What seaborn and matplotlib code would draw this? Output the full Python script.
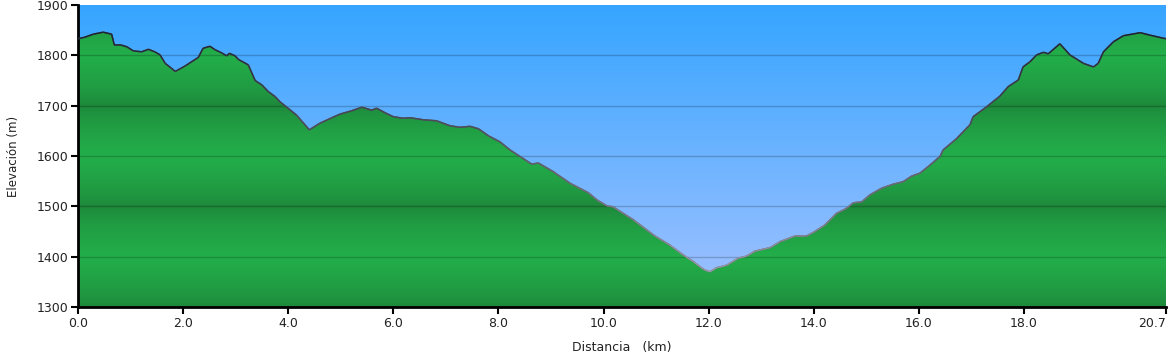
import numpy as np
import pandas as pd
import matplotlib
matplotlib.use("Agg")
import matplotlib.pyplot as plt
from matplotlib.colors import LinearSegmentedColormap, to_rgb
from matplotlib.collections import LineCollection
import seaborn as sns

# ---- data ----
distance_km = [0.00, 0.13, 0.29, 0.48, 0.64, 0.69, 0.80, 0.93, 1.05, 1.21,
               1.34, 1.46, 1.56, 1.66, 1.78, 1.85, 2.04, 2.29, 2.38, 2.51,
               2.61, 2.73, 2.83, 2.88, 2.99, 3.05, 3.24, 3.37, 3.50, 3.62,
               3.75, 3.84, 4.16, 4.40, 4.60, 4.83, 4.98, 5.21, 5.40, 5.59,
               5.68, 5.84, 6.00, 6.19, 6.32, 6.57, 6.82, 7.08, 7.27, 7.46,
               7.62, 7.81, 8.03, 8.22, 8.41, 8.63, 8.76, 9.04, 9.36, 9.71,
               9.87, 10.06, 10.18, 10.57, 10.95, 11.26, 11.52, 11.71, 11.90, 12.02,
               12.15, 12.34, 12.56, 12.72, 12.88, 13.17, 13.36, 13.64, 13.86, 14.02,
               14.21, 14.43, 14.62, 14.75, 14.91, 15.07, 15.29, 15.51, 15.70, 15.86,
               16.02, 16.21, 16.40, 16.46, 16.72, 16.97, 17.03, 17.29, 17.54, 17.70,
               17.89, 17.98, 18.11, 18.24, 18.37, 18.46, 18.68, 18.87, 19.13, 19.32,
               19.41, 19.51, 19.70, 19.89, 20.21, 20.40, 20.65, 20.70]
elevation_m = [1833, 1836, 1842, 1846, 1842, 1821, 1821, 1817, 1809, 1807,
               1812, 1807, 1801, 1784, 1774, 1768, 1779, 1796, 1814, 1818,
               1811, 1805, 1799, 1804, 1799, 1792, 1781, 1750, 1741, 1728,
               1718, 1708, 1681, 1652, 1665, 1676, 1683, 1690, 1697, 1691,
               1695, 1686, 1678, 1675, 1676, 1672, 1670, 1660, 1657, 1659,
               1654, 1640, 1628, 1612, 1599, 1584, 1586, 1569, 1546, 1527,
               1513, 1501, 1499, 1473, 1443, 1423, 1403, 1390, 1375, 1370,
               1378, 1383, 1397, 1401, 1411, 1418, 1430, 1441, 1441, 1450,
               1463, 1486, 1496, 1507, 1509, 1523, 1536, 1544, 1549, 1560,
               1566, 1582, 1599, 1612, 1635, 1662, 1678, 1698, 1719, 1738,
               1751, 1777, 1787, 1801, 1806, 1803, 1823, 1801, 1784, 1777,
               1784, 1807, 1827, 1839, 1845, 1840, 1834, 1833]

x_ticks = [0, 2, 4, 6, 8, 10, 12, 14, 16, 18, 20.7]
x_tick_labels = ["0.0", "2.0", "4.0", "6.0", "8.0", "10.0", "12.0", "14.0",
                 "16.0", "18.0", "20.7"]
y_ticks = [1300, 1400, 1500, 1600, 1700, 1800, 1900]

df = pd.DataFrame({"Distancia": distance_km, "Elevacion": elevation_m})

sns.set_theme(style="white")
plt.rcParams["font.family"] = ["DejaVu Sans"]

fig = plt.figure(figsize=(11.7, 3.59), dpi=100)
ax = fig.add_axes([78 / 1170, 1 - 307 / 359, (1166 - 78) / 1170, (307 - 5) / 359])

xmin, xmax, ymin, ymax = 0, 20.7, 1300, 1900
ax.set_xlim(xmin, xmax)
ax.set_ylim(ymin, ymax)

# sky gradient
sky = LinearSegmentedColormap.from_list("sky", ["#a4c2ff", "#36a5ff"])
grad = np.linspace(0, 1, 256).reshape(-1, 1)
ax.imshow(grad, cmap=sky, origin="lower", aspect="auto",
          extent=[xmin, xmax, ymin, ymax], zorder=0)

# ground gradient: dark at 1300/1500/1700, light at 1400/1600/1800
light = np.array(to_rgb("#23ae4a"))
dark = np.array(to_rgb("#1d853a"))
yy = np.linspace(ymin, ymax, 600)
phase = 1.0 - np.abs(((yy - 1300) % 200) - 100) / 100.0
t = phase ** 0.6
cols = dark[None, :] * (1 - t[:, None]) + light[None, :] * t[:, None]
ground_img = cols.reshape(-1, 1, 3)
im = ax.imshow(ground_img, origin="lower", aspect="auto",
               extent=[xmin, xmax, ymin, ymax], zorder=1)
poly = ax.fill_between(df["Distancia"], df["Elevacion"], ymin,
                       facecolor="none", edgecolor="none", zorder=1)
clip_path = poly.get_paths()[0]
im.set_clip_path(clip_path, transform=ax.transData)

# grid lines
for yv in y_ticks[1:-1]:
    ax.axhline(yv, color="black", alpha=0.2, lw=1.0, zorder=3)

# profile line (seaborn) with elevation-graded colouring
sns.lineplot(data=df, x="Distancia", y="Elevacion", ax=ax, sort=False,
             color="#555a66", lw=1.0, zorder=4)
pts = np.column_stack([distance_km, elevation_m])
segs = np.stack([pts[:-1], pts[1:]], axis=1)
mid = (np.array(elevation_m[:-1]) + np.array(elevation_m[1:])) / 2
lcmap = LinearSegmentedColormap.from_list("ln", ["#9a9aa8", "#5a5a66", "#1a2230"])
lc = LineCollection(segs, cmap=lcmap, norm=plt.Normalize(1370, 1850),
                    linewidths=1.1, zorder=5)
lc.set_array(mid)
ax.add_collection(lc)

# axes styling
ax.set_xticks(x_ticks)
ax.set_xticklabels(x_tick_labels)
ax.set_yticks(y_ticks)
ax.tick_params(axis="both", which="both", direction="out", length=5, width=1.5,
               color="black", labelsize=9, labelcolor="#222222",
               bottom=True, left=True, pad=2)
ax.get_xticklabels()[-1].set_horizontalalignment("right")
for side in ["top", "right"]:
    ax.spines[side].set_visible(False)
for side in ["left", "bottom"]:
    ax.spines[side].set_color("black")
    ax.spines[side].set_linewidth(2)
ax.set_xlabel("Distancia   (km)", fontsize=9, color="#222222", labelpad=8)
ax.set_ylabel("Elevación (m)", fontsize=8.5, color="#222222", labelpad=12)
ax.grid(False)

fig.savefig("out.png", dpi=100, facecolor="white")
